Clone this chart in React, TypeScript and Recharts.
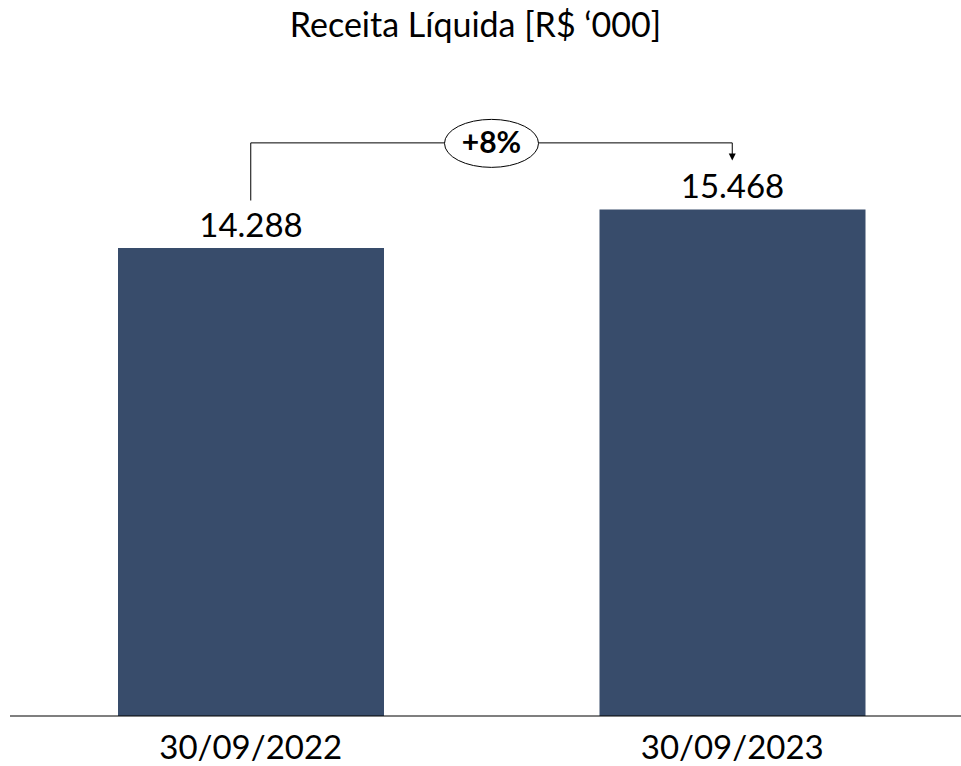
import React from "react";
import { BarChart, Bar, XAxis, YAxis, LabelList, ReferenceLine } from "recharts";

const categories = ["30/09/2022", "30/09/2023"];
const receita = [14288, 15468];
const growthLabel = "+8%";
const title = "Receita Líquida [R$ \u2018000]";

const data = categories.map((c, i) => ({ date: c, value: receita[i] }));

const FONT = "Lato, 'Open Sans', sans-serif";
const BAR_COLOR = "#384C6B";

const BRACKET_Y = 17500;
const LEFT_BOTTOM = 15740;
const ARROW_TIP = 16960;

const ValueLabel = (props: any) => {
  const { x, y, width, value } = props;
  return (
    <text
      x={x + width / 2}
      y={y - 11}
      textAnchor="middle"
      fontFamily={FONT}
      fontSize={33}
      fill="#000"
    >
      {Number(value).toLocaleString("de-DE")}
    </text>
  );
};

const HorizontalShape = (props: any) => {
  const { x1, y1, x2 } = props;
  const mx = (x1 + x2) / 2;
  return (
    <g>
      <line x1={x1} y1={y1} x2={x2} y2={y1} stroke="#000" strokeWidth={1} />
      <ellipse cx={mx} cy={y1 + 0.5} rx={47} ry={24} fill="#fff" stroke="#000" strokeWidth={1} />
      <text
        x={mx}
        y={y1 + 10.5}
        textAnchor="middle"
        fontFamily={FONT}
        fontWeight="bold"
        fontSize={30}
        fill="#000"
      >
        {growthLabel}
      </text>
    </g>
  );
};

const VerticalShape = (props: any) => {
  const { x1, y1, x2, y2 } = props;
  return <line x1={x1} y1={y1} x2={x2} y2={y2} stroke="#000" strokeWidth={1} />;
};

const ArrowShape = (props: any) => {
  const { x1, y1, x2, y2 } = props;
  return (
    <g>
      <line x1={x1} y1={y1} x2={x2} y2={y2 - 6} stroke="#000" strokeWidth={1} />
      <polygon points={`${x2 - 3.5},${y2 - 7} ${x2 + 3.5},${y2 - 7} ${x2},${y2}`} fill="#000" />
    </g>
  );
};

export default function App() {
  return (
    <div
      style={{
        position: "absolute",
        left: 0,
        top: 0,
        width: 961,
        height: 766,
        overflow: "hidden",
        background: "#fff",
      }}
    >
      <div
        style={{
          position: "absolute",
          left: 0,
          top: 3,
          width: 951,
          textAlign: "center",
          fontFamily: FONT,
          fontSize: 34,
          lineHeight: "normal",
          color: "#000",
        }}
      >
        {title}
      </div>
      <BarChart
        width={980}
        height={766}
        data={data}
        margin={{ top: 61, right: 7, left: 10, bottom: 0 }}
      >
        <XAxis
          dataKey="date"
          height={50}
          tickLine={false}
          axisLine={{ stroke: "#000", strokeWidth: 1.2 }}
          tick={{ fill: "#000", fontSize: 33, fontFamily: FONT }}
          tickMargin={14}
          interval={0}
        />
        <YAxis hide domain={[0, 20000]} />
        <Bar dataKey="value" fill={BAR_COLOR} barSize={266} isAnimationActive={false}>
          <LabelList dataKey="value" content={<ValueLabel />} />
        </Bar>
        <ReferenceLine
          segment={[
            { x: categories[0], y: LEFT_BOTTOM },
            { x: categories[0], y: BRACKET_Y },
          ]}
          shape={<VerticalShape />}
          ifOverflow="visible"
        />
        <ReferenceLine
          segment={[
            { x: categories[0], y: BRACKET_Y },
            { x: categories[1], y: BRACKET_Y },
          ]}
          shape={<HorizontalShape />}
          ifOverflow="visible"
        />
        <ReferenceLine
          segment={[
            { x: categories[1], y: BRACKET_Y },
            { x: categories[1], y: ARROW_TIP },
          ]}
          shape={<ArrowShape />}
          ifOverflow="visible"
        />
      </BarChart>
    </div>
  );
}
